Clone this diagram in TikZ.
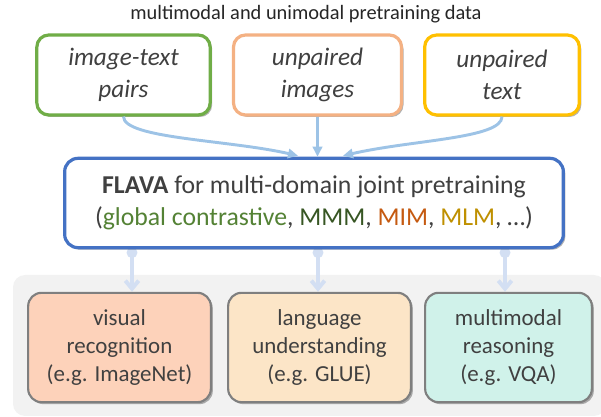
\documentclass[tikz,border=0pt]{standalone}
\usepackage{fontspec}
\setmainfont{Carlito}
\usepackage{tikz}
\usetikzlibrary{positioning,arrows.meta,shadows,calc,backgrounds}
\usepackage{xcolor}

\definecolor{txtgray}{HTML}{404040}
\definecolor{pairgreen}{HTML}{70AD47}
\definecolor{imgorange}{HTML}{F4B183}
\definecolor{textgold}{HTML}{FFC000}
\definecolor{flavablue}{HTML}{4472C4}
\definecolor{connblue}{HTML}{9DC3E6}
\definecolor{downblue}{HTML}{D3DFF3}
\definecolor{bggray}{HTML}{F2F2F2}
\definecolor{boxgray}{HTML}{7F7F7F}
\definecolor{visfill}{HTML}{FDD2BA}
\definecolor{langfill}{HTML}{FCE5C7}
\definecolor{mmfill}{HTML}{D0F2EA}
\definecolor{gcgreen}{HTML}{548235}
\definecolor{mmmgreen}{HTML}{375623}
\definecolor{mimorange}{HTML}{C55A11}
\definecolor{mlmgold}{HTML}{BF9000}

\begin{document}
\begin{tikzpicture}[
			x=0.75pt, y=-0.75pt,
			softshadow/.style={drop shadow={shadow xshift=1.5pt, shadow yshift=-1.5pt, opacity=0.3, fill=black}},
			databox/.style={rectangle, rounded corners=9pt, draw, line width=2.4pt, fill=white, minimum height=60pt, align=center, text=txtgray, font=\fontsize{18.9}{24}\selectfont\itshape, softshadow},
			taskbox/.style={rectangle, rounded corners=10pt, draw=boxgray, line width=1.6pt, minimum width=137pt, minimum height=82pt, align=center, text=txtgray, font=\fontsize{17.2}{21}\selectfont, softshadow},
			conn/.style={-{Triangle[length=7.5pt, width=7pt]}, line width=2.2pt, color=connblue},
			down/.style={{Circle[length=8pt]}-{Straight Barb[length=6pt, width=10pt]}, line width=3pt, color=downblue}
			]
			\useasboundingbox (0,0) rectangle (601,417);
			
			% Title
			\node[text=black!85, font=\fontsize{15.3}{18}\selectfont] (title) at (306,14) {multimodal and unimodal pretraining data};
			
			% Pretraining data
			\node[databox, draw=pairgreen, minimum width=130pt] (pairs) at (123.5,75) {image-text\\pairs};
			\node[databox, draw=imgorange, minimum width=126pt] (images) at (317.5,75) {unpaired\\images};
			\node[databox, draw=textgold, minimum width=116pt] (text) at (502,75) {unpaired\\text};
			
			% FLAVA model
			\node[rectangle, rounded corners=10pt, draw=flavablue, line width=2.4pt, fill=white, minimum width=374pt, minimum height=67pt, align=center, text=txtgray, font=\fontsize{19.3}{24}\selectfont, softshadow] (flava) at (314,203)
			{\textbf{FLAVA} for multi-domain joint pretraining\\(\textcolor{gcgreen}{global contrastive}, \textcolor{mmmgreen}{MMM}, \textcolor{mimorange}{MIM}, \textcolor{mlmgold}{MLM}, \dots)};
			
			% Downstream tasks
			\node[taskbox, fill=visfill] (visual) at (119.5,347.5) {visual\\recognition\\(e.g. ImageNet)};
			\node[taskbox, fill=langfill] (lang) at (319.5,347.5) {language\\understanding\\(e.g. GLUE)};
			\node[taskbox, fill=mmfill, minimum width=125pt] (reason) at (508.5,347.5) {multimodal\\reasoning\\(e.g. VQA)};
			
			% Arrows into FLAVA
			\draw[conn] (pairs.south) .. controls +(0,22) and +(-70,-16) .. ($(flava.north)+(-16,-1)$);
			\draw[conn] (images.south) -- (images.south |- flava.north);
			\draw[conn] (text.south) .. controls +(0,22) and +(70,-16) .. ($(flava.north)+(29,-1)$);
			
			\begin{pgfonlayer}{background}
				% background of the downstream tasks
				\fill[bggray, rounded corners=9pt] (13,275) rectangle (606,416);
				% Arrows to the tasks (start hidden under the FLAVA box)
				\coordinate (visfrom) at ($(flava.south)+(-182,-2)$);
				\coordinate (langfrom) at ($(flava.south)+(4,-2)$);
				\coordinate (reasfrom) at ($(flava.south)+(191,-2)$);
				\draw[down] (visfrom) -- (visfrom |- visual.north);
				\draw[down] (langfrom) -- (langfrom |- lang.north);
				\draw[down] (reasfrom) -- (reasfrom |- reason.north);
			\end{pgfonlayer}
			
		\end{tikzpicture}
\end{document}
